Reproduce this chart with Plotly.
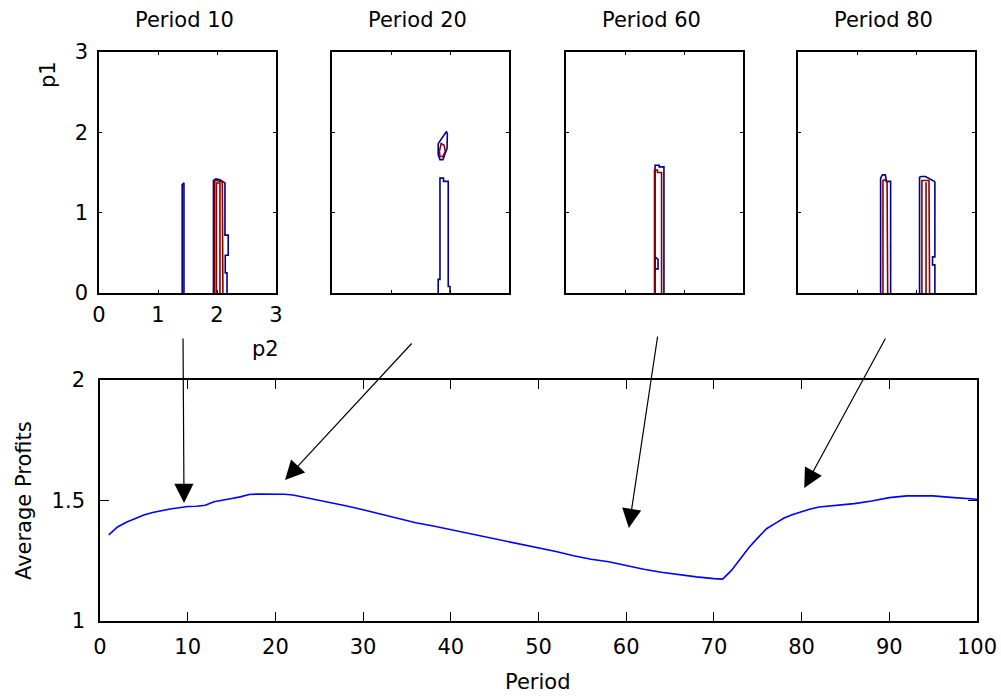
import plotly.graph_objects as go

# ---------------- data ----------------
period = [1, 2, 3, 4, 5, 6, 7, 8, 9, 10, 11, 12, 13, 14, 15, 16, 17, 18, 19, 20,
          21, 22, 23, 24, 25, 26, 28, 30, 32, 34, 36, 38, 40, 42, 44, 46, 48, 50,
          52, 54, 56, 58, 60, 62, 64, 66, 68, 70, 71, 72, 73, 74, 75, 76, 77, 78,
          79, 80, 81, 82, 84, 86, 88, 90, 92, 95, 97, 100]
avg_profit = [1.357, 1.39, 1.41, 1.425, 1.44, 1.45, 1.458, 1.465, 1.47, 1.475,
              1.476, 1.48, 1.495, 1.50, 1.508, 1.515, 1.525, 1.527, 1.527, 1.527,
              1.526, 1.523, 1.516, 1.508, 1.500, 1.494, 1.478, 1.462, 1.444, 1.424,
              1.408, 1.394, 1.379, 1.363, 1.347, 1.332, 1.317, 1.305, 1.288, 1.271,
              1.256, 1.246, 1.229, 1.215, 1.202, 1.192, 1.183, 1.176, 1.174, 1.21,
              1.26, 1.305, 1.345, 1.383, 1.405, 1.427, 1.442, 1.454, 1.465, 1.473,
              1.480, 1.487, 1.498, 1.512, 1.519, 1.519, 1.513, 1.505]

panel_titles = ["Period 10", "Period 20", "Period 60", "Period 80"]
p_ticks = [0, 1, 2, 3]
period_ticks = [0, 10, 20, 30, 40, 50, 60, 70, 80, 90, 100]
profit_ticks = [1, 1.5, 2]
profit_ticktext = ["1", "1.5", "2"]

# contour outlines (p2, p1)
p10_blue1_p2 = [1.41, 1.41, 1.44, 1.44]
p10_blue1_p1 = [0.0, 1.35, 1.37, 0.0]
p10_blue2_p2 = [1.94, 1.94, 1.98, 2.05, 2.135, 2.135, 2.19, 2.19, 2.14, 2.14, 2.17, 2.17]
p10_blue2_p1 = [0.0, 1.40, 1.42, 1.41, 1.37, 0.72, 0.72, 0.47, 0.47, 0.25, 0.25, 0.0]
p10_red1_p2 = [1.96, 1.96, 2.00, 2.09, 2.10]
p10_red1_p1 = [0.0, 1.39, 1.40, 1.38, 0.0]
p10_red2_p2 = [1.99, 1.99, 2.05, 2.05]
p10_red2_p1 = [0.0, 1.37, 1.37, 0.0]

p20_blue1_p2 = [1.80, 1.80, 1.83, 1.83, 1.89, 1.89, 1.97, 1.97, 2.00, 2.00]
p20_blue1_p1 = [0.0, 0.17, 0.17, 1.43, 1.43, 1.39, 1.39, 0.08, 0.08, 0.0]
p20_blue2_p2 = [1.80, 1.87, 1.94, 1.955, 1.95, 1.88, 1.83, 1.80, 1.80]
p20_blue2_p1 = [1.86, 1.93, 2.01, 1.98, 1.80, 1.66, 1.66, 1.72, 1.86]
p20_red1_p2 = [1.82, 1.85, 1.90, 1.92, 1.88, 1.83, 1.82]
p20_red1_p1 = [1.76, 1.86, 1.84, 1.76, 1.70, 1.70, 1.76]

p60_blue1_p2 = [1.51, 1.51, 1.58, 1.58, 1.66, 1.66]
p60_blue1_p1 = [0.0, 1.59, 1.59, 1.57, 1.57, 0.0]
p60_blue2_p2 = [1.51, 1.51, 1.56, 1.56, 1.51]
p60_blue2_p1 = [0.30, 0.45, 0.42, 0.30, 0.30]
p60_red1_p2 = [1.50, 1.50, 1.55, 1.55, 1.62, 1.62]
p60_red1_p1 = [0.0, 1.53, 1.53, 1.50, 1.50, 0.0]

p80_blue1_p2 = [1.40, 1.40, 1.43, 1.48, 1.50, 1.57, 1.57]
p80_blue1_p1 = [0.0, 1.43, 1.47, 1.47, 1.39, 1.39, 0.0]
p80_red1_p2 = [1.44, 1.44, 1.47, 1.51, 1.52]
p80_red1_p1 = [0.0, 1.40, 1.41, 1.38, 0.0]
p80_blue2_p2 = [2.06, 2.06, 2.09, 2.16, 2.31, 2.32, 2.32, 2.28, 2.28, 2.32, 2.32]
p80_blue2_p1 = [0.0, 1.44, 1.45, 1.45, 1.39, 1.38, 0.45, 0.45, 0.35, 0.35, 0.0]
p80_red2_p2 = [2.10, 2.10, 2.22, 2.23]
p80_red2_p1 = [0.0, 1.40, 1.40, 0.0]
p80_red3_p2 = [2.17, 2.17]
p80_red3_p1 = [0.0, 1.38]

contours = [
    [("blue", p10_blue1_p2, p10_blue1_p1), ("blue", p10_blue2_p2, p10_blue2_p1),
     ("red", p10_red1_p2, p10_red1_p1), ("red", p10_red2_p2, p10_red2_p1)],
    [("blue", p20_blue1_p2, p20_blue1_p1), ("blue", p20_blue2_p2, p20_blue2_p1),
     ("red", p20_red1_p2, p20_red1_p1)],
    [("blue", p60_blue1_p2, p60_blue1_p1), ("blue", p60_blue2_p2, p60_blue2_p1),
     ("red", p60_red1_p2, p60_red1_p1)],
    [("blue", p80_blue1_p2, p80_blue1_p1), ("red", p80_red1_p2, p80_red1_p1),
     ("blue", p80_blue2_p2, p80_blue2_p1), ("red", p80_red2_p2, p80_red2_p1),
     ("red", p80_red3_p2, p80_red3_p1)],
]

# arrows: (tip period, tip profit)
arrow_tip_period = [9.58, 21.1, 60.3, 80.3]
arrow_tip_profit = [1.49, 1.585, 1.386, 1.552]
# tail offsets (px) from the tip
arrow_dx = [-1, 128, 29, 82]
arrow_dy = [-166, -138, -193, -151]

# ---------------- layout ----------------
W, H = 1001, 698
FONT = "DejaVu Sans"
FS = 21
colors = {"blue": "#00008f", "red": "#8b0000"}

fig = go.Figure()

panel_px = [(99, 276), (332, 509), (566, 743), (798, 975)]
top_y = (1 - 293 / H, 1 - 52 / H)
bot_x = (100 / W, 977 / W)
bot_y = (1 - 621 / H, 1 - 380 / H)

axis_common = dict(showgrid=False, zeroline=False, showline=True, linecolor="black",
                   linewidth=1.6, mirror="ticks", ticks="inside", tickcolor="black",
                   automargin=False,
                   tickfont=dict(family=FONT, size=FS, color="black"))

for i, groups in enumerate(contours):
    n = i + 1
    xa = "x" if n == 1 else f"x{n}"
    ya = "y" if n == 1 else f"y{n}"
    for col, xs, ys in groups:
        fig.add_trace(go.Scatter(x=xs, y=ys, mode="lines", xaxis=xa, yaxis=ya,
                                 line=dict(color=colors[col], width=1.6),
                                 showlegend=False, hoverinfo="skip"))
    x0, x1 = panel_px[i]
    fig.update_layout(**{
        f"xaxis{'' if n == 1 else n}": dict(axis_common, domain=[x0 / W, x1 / W],
                                            range=[0, 3], tickvals=p_ticks, ticklen=3,
                                            showticklabels=(n == 1), anchor=ya,
                                            ticklabelstandoff=2),
        f"yaxis{'' if n == 1 else n}": dict(axis_common, domain=list(top_y),
                                            range=[0, 3], tickvals=p_ticks, ticklen=3,
                                            showticklabels=(n == 1), anchor=xa,
                                            ticklabelstandoff=5),
    })

fig.add_trace(go.Scatter(x=period, y=avg_profit, mode="lines", xaxis="x5", yaxis="y5",
                         line=dict(color="#0000ff", width=1.6),
                         showlegend=False, hoverinfo="skip"))
fig.update_layout(
    xaxis5=dict(axis_common, domain=list(bot_x), range=[0, 100], tickvals=period_ticks,
                ticklen=9, anchor="y5", ticklabelstandoff=6),
    yaxis5=dict(axis_common, domain=list(bot_y), range=[1, 2], tickvals=profit_ticks,
                ticktext=profit_ticktext, ticklen=9, anchor="x5", ticklabelstandoff=9),
)

annotations = []
for i, t in enumerate(panel_titles):
    x0, x1 = panel_px[i]
    annotations.append(dict(text=t, x=((x0 + x1) / 2 - 3) / W, y=1 - 20 / H,
                            xref="paper", yref="paper", showarrow=False,
                            xanchor="center", yanchor="middle",
                            font=dict(family=FONT, size=FS, color="black")))
annotations.append(dict(text="p1", x=48 / W, y=1 - 75 / H, xref="paper", yref="paper",
                        showarrow=False, textangle=-90, xanchor="center", yanchor="middle",
                        font=dict(family=FONT, size=FS, color="black")))
annotations.append(dict(text="p2", x=265 / W, y=1 - 349 / H, xref="paper", yref="paper",
                        showarrow=False, xanchor="center", yanchor="middle",
                        font=dict(family=FONT, size=FS, color="black")))
annotations.append(dict(text="Period", x=537 / W, y=1 - 682 / H, xref="paper", yref="paper",
                        showarrow=False, xanchor="center", yanchor="middle",
                        font=dict(family=FONT, size=FS, color="black")))
annotations.append(dict(text="Average Profits", x=24 / W, y=1 - 501 / H, xref="paper",
                        yref="paper", showarrow=False, textangle=-90,
                        xanchor="center", yanchor="middle",
                        font=dict(family=FONT, size=FS, color="black")))
for tx, ty, dx, dy in zip(arrow_tip_period, arrow_tip_profit, arrow_dx, arrow_dy):
    annotations.append(dict(text="", x=tx, y=ty, xref="x5", yref="y5", ax=dx, ay=dy,
                            showarrow=True, arrowhead=2, arrowsize=3.2, arrowwidth=1.2,
                            arrowcolor="black"))

fig.update_layout(width=W, height=H, margin=dict(l=0, r=0, t=0, b=0),
                  paper_bgcolor="white", plot_bgcolor="white",
                  annotations=annotations, showlegend=False)

fig.write_html("out.html")
